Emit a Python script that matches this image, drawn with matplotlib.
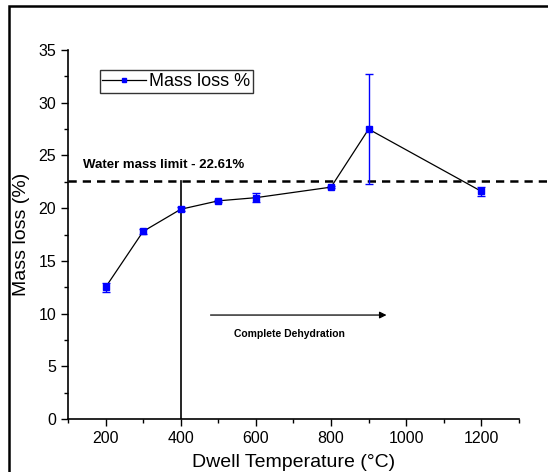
import matplotlib.pyplot as plt
from matplotlib.patches import Rectangle
from matplotlib.ticker import MultipleLocator

plt.rcParams['font.family'] = ['Liberation Sans', 'DejaVu Sans']

temperature = [200, 300, 400, 500, 600, 800, 900, 1200]
mass_loss = [12.5, 17.8, 19.9, 20.7, 21.0, 22.0, 27.5, 21.6]
mass_loss_err = [0.4, 0.2, 0.2, 0.1, 0.4, 0.1, 5.2, 0.4]
water_limit = 22.61

fig = plt.figure(figsize=(5.48, 4.72), dpi=100)
ax = fig.add_axes([0.124, 0.112, 0.823, 0.782])

# outer frame (only left and top edges visible in the picture)
fig.patches.append(Rectangle((0.016, -0.1), 1.2, 1.087, transform=fig.transFigure,
                             fill=False, edgecolor='black', linewidth=1.8))

ax.plot(temperature, mass_loss, color='black', lw=0.9, zorder=2)
ax.errorbar(temperature, mass_loss, yerr=mass_loss_err, fmt='none', ecolor='blue',
            elinewidth=1.0, capsize=3, capthick=1.0, zorder=3)
ax.plot(temperature, mass_loss, 's', color='blue', markersize=4.5, zorder=4)

# legend handle drawn like Origin: line with square marker
ax.plot([], [], '-s', color='black', mfc='blue', mec='blue', markersize=3.5, lw=0.9, label='Mass loss %')
leg = ax.legend(loc='upper left', bbox_to_anchor=(0.07, 0.945), fontsize=13, frameon=True,
                fancybox=False, edgecolor='black', handlelength=2.4, handletextpad=0.2,
                borderpad=0.15, borderaxespad=0)
leg.get_frame().set_linewidth(1.0)

# water mass limit
ax.plot([100, 1460], [water_limit, water_limit], '--', color='black', lw=1.8,
        dashes=(3.3, 2.4), clip_on=False)
ax.text(140, 24.1, 'Water mass limit - 22.61%', fontsize=9.5, fontweight='bold', va='center')
ax.plot([400, 400], [0, water_limit], color='black', lw=1.2)

ax.annotate('', xy=(955, 9.87), xytext=(472, 9.87),
            arrowprops=dict(arrowstyle='-|>', color='black', lw=0.9, mutation_scale=10))
ax.text(690, 8.1, 'Complete Dehydration', fontsize=7.5, fontweight='bold', ha='center', va='center')

ax.set_xlim(100, 1300)
ax.set_ylim(0, 35)
ax.xaxis.set_major_locator(MultipleLocator(200))
ax.xaxis.set_minor_locator(MultipleLocator(100))
ax.yaxis.set_major_locator(MultipleLocator(5))
ax.yaxis.set_minor_locator(MultipleLocator(2.5))
ax.tick_params(which='major', length=5, width=1, labelsize=11.5)
ax.tick_params(which='minor', length=3, width=1)
ax.spines['top'].set_visible(False)
ax.spines['right'].set_visible(False)
ax.spines['left'].set_linewidth(1.2)
ax.spines['bottom'].set_linewidth(1.2)

ax.set_xlabel('Dwell Temperature (°C)', fontsize=14, labelpad=6)
ax.set_ylabel('Mass loss (%)', fontsize=14, labelpad=6)

fig.savefig('out.png', dpi=100)
